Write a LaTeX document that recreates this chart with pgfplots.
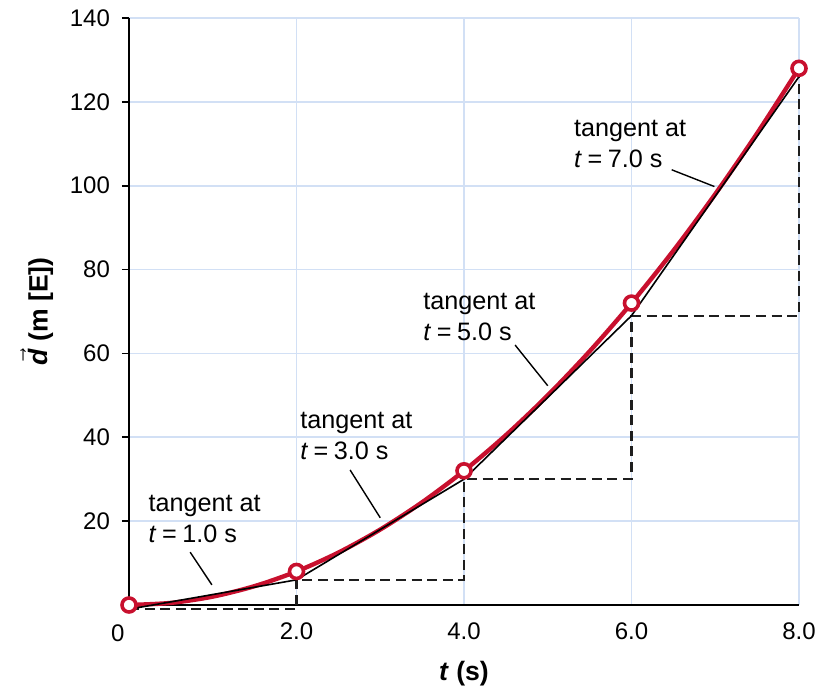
\documentclass[border=0pt]{standalone}
\usepackage{pgfplots}
\pgfplotsset{compat=1.18}
\usepackage{fontspec}
\setmainfont{Liberation Sans}
\definecolor{curvered}{RGB}{200,16,46}
\definecolor{gridblue}{RGB}{210,224,245}
\definecolor{dashgray}{RGB}{30,30,30}
\begin{document}
\begin{tikzpicture}
\useasboundingbox (-64.5pt,-42pt) rectangle (347pt,302.5pt);
\begin{axis}[
  at={(0,0)}, anchor=south west,
  width=335pt, height=293.5pt, scale only axis,
  xmin=0, xmax=8, ymin=0, ymax=140,
  axis x line=bottom, axis y line=left,
  axis line style={-, line width=1pt, black},
  xtick={2,4,6,8}, xticklabels={2.0,4.0,6.0,8.0},
  ytick={20,40,60,80,100,120,140},
  grid=major, major grid style={gridblue, line width=0.8pt},
  xtick style={draw=none},
  ytick style={black, line width=0.9pt},
  ytick align=outside, major tick length=3.5pt,
  tick label style={font=\fontsize{12}{14}\selectfont},
  /pgf/number format/assume math mode=true,
  xticklabel style={yshift=-3.5pt},
  yticklabel style={xshift=-2.5pt},
  clip=false,
  xlabel={\textbf{\textit{t} (s)}},
  ylabel={\textbf{$\vec{\mbox{\textbf{\textit{d}}}}$ (m [E])}},
  label style={font=\fontsize{13.3}{15}\selectfont},
  xlabel style={yshift=-4pt},
  ylabel style={yshift=1.5pt},
]
% dashed steps
\addplot[dashgray, line width=1.15pt, dash pattern=on 5pt off 2.8pt] coordinates {
(0,-1) (2,-1) (2,6) (4,6) (4,30) (6,30) (6,69) (8,69) (8,126)};
% red curve d = 2 t^2
\addplot[curvered, line width=2.2pt, smooth] coordinates {
(0,0) (0.5,0.5) (1,2) (1.5,4.5) (2,8) (2.5,12.5) (3,18) (3.5,24.5) (4,32)
(4.5,40.5) (5,50) (5.5,60.5) (6,72) (6.5,84.5) (7,98) (7.5,112.5) (8,128)};
% tangent lines
\addplot[black, line width=0.8pt] coordinates {
(0,-1) (2,6) (4,30) (6,69) (8,126)};
% data markers
\addplot[only marks, mark=*, mark size=3.5pt,
  mark options={fill=white, draw=curvered, line width=1.8pt}] coordinates {
(0,0) (2,8) (4,32) (6,72) (8,128)};
% leader lines
\draw[black, line width=0.7pt] (axis cs:0.73,12.6) -- (axis cs:0.99,4.8);
\draw[black, line width=0.7pt] (axis cs:2.64,32.2) -- (axis cs:3.0,20.8);
\draw[black, line width=0.7pt] (axis cs:4.61,62) -- (axis cs:5.0,52.3);
\draw[black, line width=0.7pt] (axis cs:6.48,103.8) -- (axis cs:6.99,99.8);
% annotations
\begin{scope}[every node/.style={anchor=west, align=left, inner sep=0pt,
  font=\fontsize{12.6}{15.5}\selectfont}]
\node at (axis cs:0.23,20.6) {tangent at\\\textit{t}\hspace{0.22em}=\hspace{0.22em}1.0 s};
\node at (axis cs:2.04,40.2) {tangent at\\\textit{t}\hspace{0.22em}=\hspace{0.22em}3.0 s};
\node at (axis cs:3.51,68.6) {tangent at\\\textit{t}\hspace{0.22em}=\hspace{0.22em}5.0 s};
\node at (axis cs:5.31,109.9) {tangent at\\\textit{t}\hspace{0.22em}=\hspace{0.22em}7.0 s};
\end{scope}
\node[anchor=north east, inner sep=0pt, font=\fontsize{12}{14}\selectfont]
  at (axis cs:-0.05,-4.5) {0};
\end{axis}
\end{tikzpicture}
\end{document}
